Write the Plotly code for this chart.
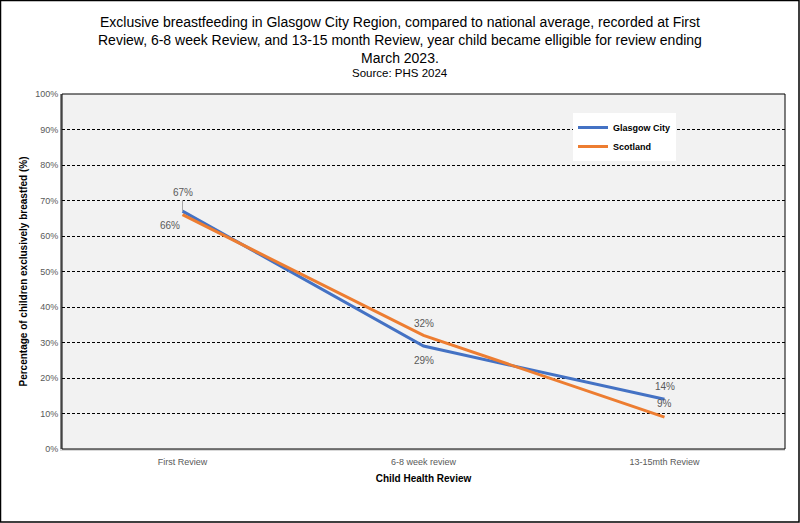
import plotly.graph_objects as go

categories = ["First Review", "6-8 week review", "13-15mth Review"]
glasgow = [67, 29, 14]
scotland = [66, 32, 9]
y_ticks = [0, 10, 20, 30, 40, 50, 60, 70, 80, 90, 100]
y_tick_labels = [f"{v}%" for v in y_ticks]

title_text = ("Exclusive breastfeeding in Glasgow City Region, compared to national average, recorded at First<br>"
              "Review, 6-8 week Review, and 13-15 month Review, year child became elligible for review ending<br>"
              "March 2023.")
source_text = "Source: PHS 2024"

FONT = "Liberation Sans Narrow, Liberation Sans, Arial, sans-serif"

fig = go.Figure()
fig.add_trace(go.Scatter(x=[0, 1, 2], y=glasgow, mode="lines", name="<b>Glasgow City</b>",
                         line=dict(color="#4472C4", width=3)))
fig.add_trace(go.Scatter(x=[0, 1, 2], y=scotland, mode="lines", name="<b>Scotland</b>",
                         line=dict(color="#ED7D31", width=3)))

# data labels
label_specs = [
    (0, glasgow[0], f"{glasgow[0]}%", 0, -11, True),
    (0, scotland[0], f"{scotland[0]}%", -13, 11, False),
    (1, scotland[1], f"{scotland[1]}%", 0, -12, False),
    (1, glasgow[1], f"{glasgow[1]}%", 0, 14, False),
    (2, glasgow[2], f"{glasgow[2]}%", 0, -13, False),
    (2, scotland[2], f"{scotland[2]}%", 0, -14, False),
]
for x, y, t, ax, ay, arrow in label_specs:
    if arrow:
        fig.add_annotation(x=x, y=y, text=t, showarrow=True, arrowhead=0, arrowwidth=1,
                           arrowcolor="#A6A6A6", ax=ax, ay=ay, standoff=0,
                           font=dict(family=FONT, size=10, color="#595959"),
                           yanchor="bottom")
    else:
        fig.add_annotation(x=x, y=y, text=t, showarrow=False, xshift=ax, yshift=-ay,
                           font=dict(family=FONT, size=10, color="#595959"))

# title and source as annotations
fig.add_annotation(xref="paper", yref="paper", x=(400 - 62) / 723, y=1 + (94 - 12) / 355,
                   xanchor="center", yanchor="top", showarrow=False, align="center",
                   text=title_text, font=dict(family=FONT, size=14, color="black"))
fig.add_annotation(xref="paper", yref="paper", x=(400 - 62) / 723, y=1 + (94 - 73) / 355,
                   xanchor="center", yanchor="middle", showarrow=False, align="center",
                   text=source_text, font=dict(family=FONT, size=11.5, color="black"))

fig.update_layout(
    width=800, height=523,
    margin=dict(l=62, r=15, t=94, b=74),
    paper_bgcolor="white",
    plot_bgcolor="#F2F2F2",
    font=dict(family=FONT),
    legend=dict(x=(573 - 62) / 723, y=(449 - 113) / 355, xanchor="left", yanchor="top",
                bgcolor="white", font=dict(family=FONT, size=9, color="black"),
                itemwidth=30, tracegroupgap=0),
    xaxis=dict(range=[-0.5, 2.5], tickmode="array", tickvals=[0, 1, 2], ticktext=categories,
               showgrid=False, zeroline=False, showline=True, linecolor="#D9D9D9", linewidth=2,
               tickfont=dict(family=FONT, size=9, color="#595959"),
               ticks="outside", ticklen=3, tickcolor="rgba(0,0,0,0)",
               title=dict(text="<b>Child Health Review</b>", font=dict(family=FONT, size=10, color="black"), standoff=9),
               fixedrange=True),
    yaxis=dict(range=[0, 100], tickmode="array", tickvals=y_ticks, ticktext=y_tick_labels,
               showgrid=True, gridcolor="black", griddash="3px,2px", gridwidth=1, zeroline=False,
               showline=True, linecolor="#868686", linewidth=2,
               tickfont=dict(family=FONT, size=9, color="#595959"),
               title=dict(text="<b>Percentage of children exclusively breastfed (%)</b>",
                          font=dict(family=FONT, size=10, color="black"), standoff=6),
               ticks="", fixedrange=True),
    showlegend=True,
)

# plot area border
fig.add_shape(type="rect", xref="paper", yref="paper", x0=0, x1=1, y0=0, y1=1,
              line=dict(color="black", width=1), layer="above")
# outer border
fig.add_shape(type="rect", xref="paper", yref="paper", x0=-61.5 / 723, x1=1 + 14 / 723,
              y0=-73 / 355, y1=1 + 93.5 / 355, line=dict(color="black", width=1.5))

fig.write_html("out.html", config={"displayModeBar": False},
               post_script="document.body.style.margin='0px';")
